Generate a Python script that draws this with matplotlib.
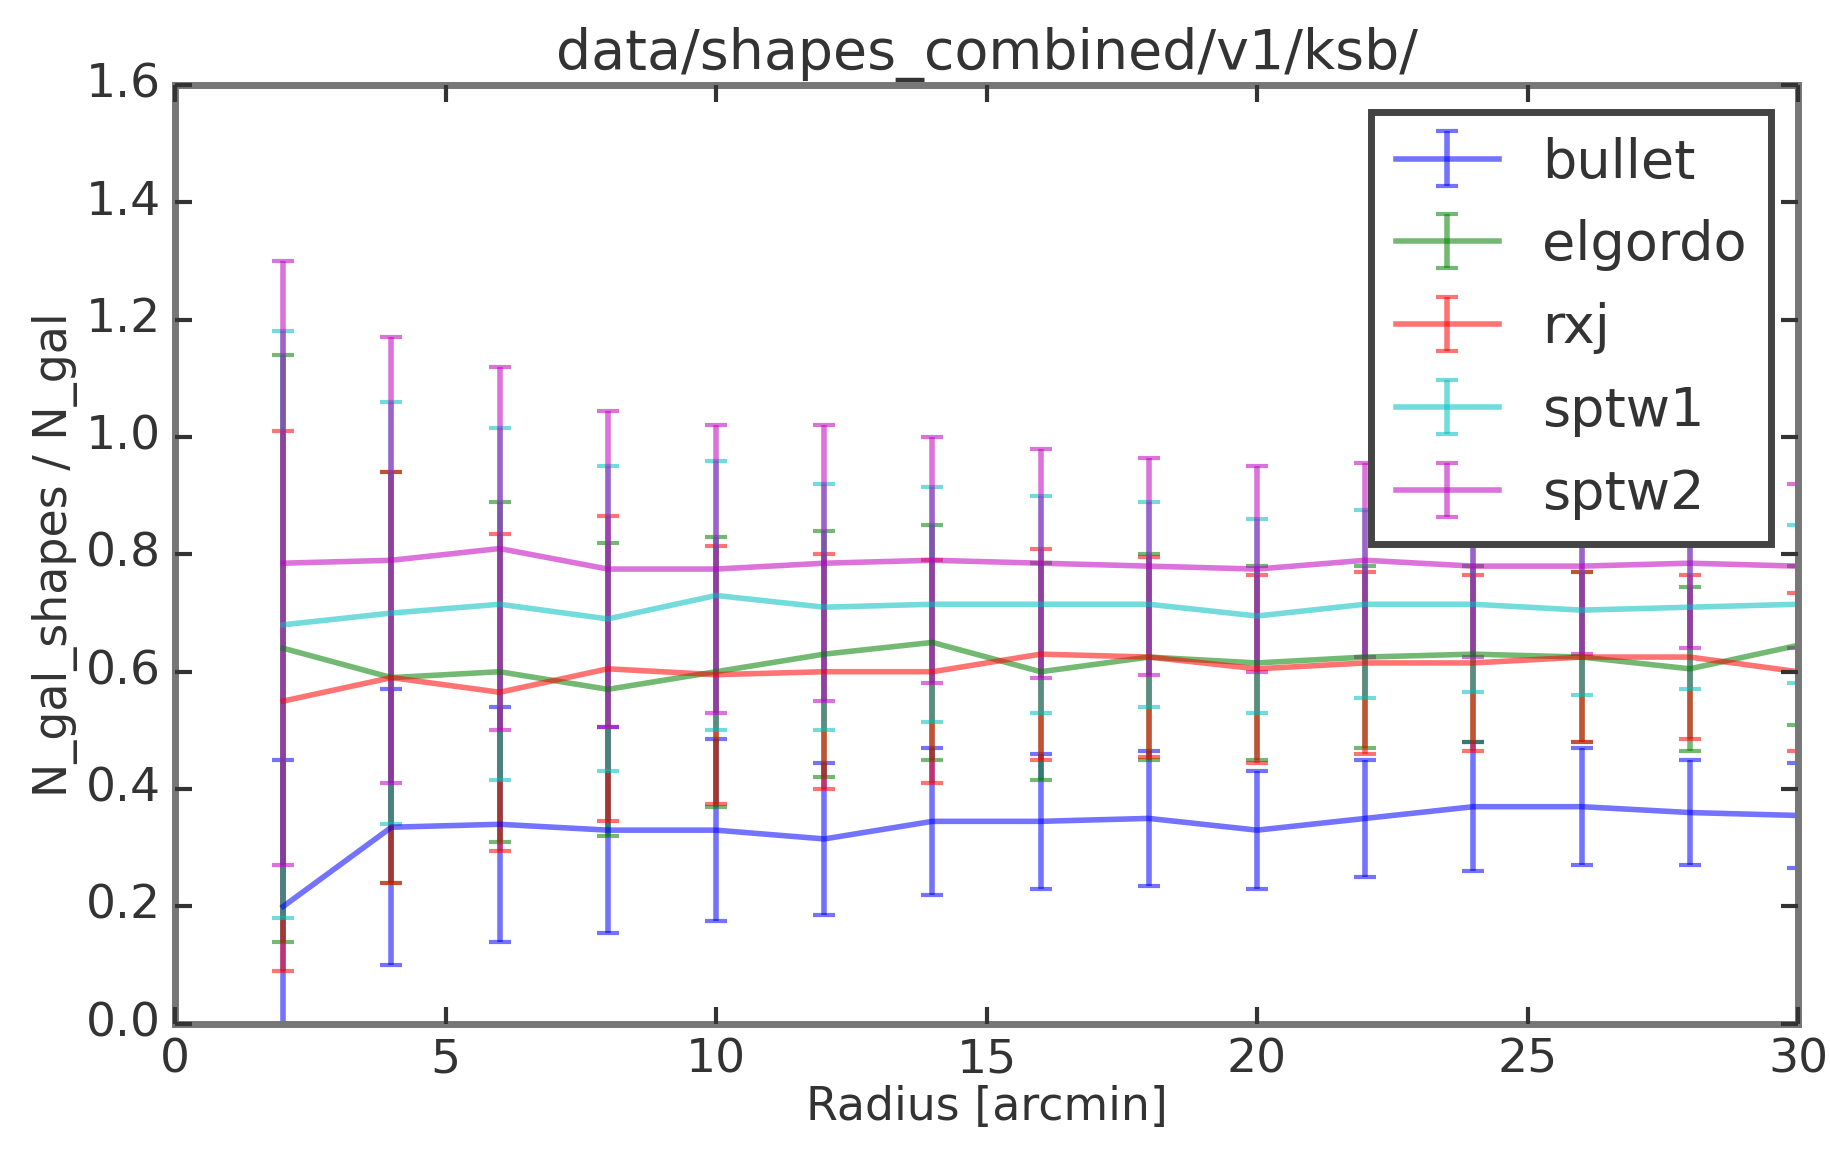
import numpy as np
import matplotlib
matplotlib.use("Agg")
import matplotlib.pyplot as plt

plt.style.use('classic')

# radius bins [arcmin]
radius = [2, 4, 6, 8, 10, 12, 14, 16, 18, 20, 22, 24, 26, 28, 30]

names = ['bullet', 'elgordo', 'rxj', 'sptw1', 'sptw2']

bullet = [0.20, 0.335, 0.34, 0.33, 0.33, 0.315, 0.345, 0.345, 0.35, 0.33, 0.35, 0.37, 0.37, 0.36, 0.355]
bullet_err = [0.25, 0.235, 0.20, 0.175, 0.155, 0.13, 0.125, 0.115, 0.115, 0.10, 0.10, 0.11, 0.10, 0.09, 0.09]

elgordo = [0.64, 0.59, 0.60, 0.57, 0.60, 0.63, 0.65, 0.60, 0.625, 0.615, 0.625, 0.63, 0.625, 0.605, 0.645]
elgordo_err = [0.50, 0.35, 0.29, 0.25, 0.23, 0.21, 0.20, 0.185, 0.175, 0.165, 0.155, 0.15, 0.145, 0.14, 0.135]

rxj = [0.55, 0.59, 0.565, 0.605, 0.595, 0.60, 0.60, 0.63, 0.625, 0.605, 0.615, 0.615, 0.625, 0.625, 0.60]
rxj_err = [0.46, 0.35, 0.27, 0.26, 0.22, 0.20, 0.19, 0.18, 0.17, 0.16, 0.155, 0.15, 0.145, 0.14, 0.135]

sptw1 = [0.68, 0.70, 0.715, 0.69, 0.73, 0.71, 0.715, 0.715, 0.715, 0.695, 0.715, 0.715, 0.705, 0.71, 0.715]
sptw1_err = [0.50, 0.36, 0.30, 0.26, 0.23, 0.21, 0.20, 0.185, 0.175, 0.165, 0.16, 0.15, 0.145, 0.14, 0.135]

sptw2 = [0.785, 0.79, 0.81, 0.775, 0.775, 0.785, 0.79, 0.785, 0.78, 0.775, 0.79, 0.78, 0.78, 0.785, 0.78]
sptw2_err = [0.515, 0.38, 0.31, 0.27, 0.245, 0.235, 0.21, 0.195, 0.185, 0.175, 0.165, 0.155, 0.15, 0.145, 0.14]

values = [bullet, elgordo, rxj, sptw1, sptw2]
errors = [bullet_err, elgordo_err, rxj_err, sptw1_err, sptw2_err]
colors = ['b', 'g', 'r', 'c', 'm']

fig = plt.figure(figsize=(18.31, 11.49), dpi=100, facecolor='white')
ax = fig.add_axes([0.0956, 0.109, 0.8864, 0.817])

for name, y, e, c in zip(names, values, errors, colors):
    ax.errorbar(radius, y, yerr=e, color=c, alpha=0.55, lw=4,
                elinewidth=4, capsize=8, capthick=3, label=name)

ax.set_xlim(0, 30)
ax.set_ylim(0, 1.6)
ax.set_xticks([0, 5, 10, 15, 20, 25, 30])
ax.set_yticks(np.arange(0, 1.61, 0.2))
ax.tick_params(labelsize=34, width=3, length=12, pad=10, colors='#333333')
for s in ax.spines.values():
    s.set_linewidth(5)
    s.set_color('#777777')

ax.set_xlabel('Radius [arcmin]', fontsize=33, color='#333333', labelpad=2)
ax.set_ylabel('N_gal_shapes / N_gal', fontsize=33, color='#333333', labelpad=6)
ax.set_title('data/shapes_combined/v1/ksb/', fontsize=40, color='#333333', y=1.01)

leg = ax.legend(loc='upper right', fontsize=39, numpoints=1,
                borderaxespad=0.5, handlelength=1.9, labelspacing=0.57,
                borderpad=0.45, handletextpad=0.8)
leg.get_frame().set_linewidth(5)
leg.get_frame().set_edgecolor('#444444')
for t in leg.get_texts():
    t.set_color('#333333')

fig.savefig('out.png', dpi=100, facecolor='white')
